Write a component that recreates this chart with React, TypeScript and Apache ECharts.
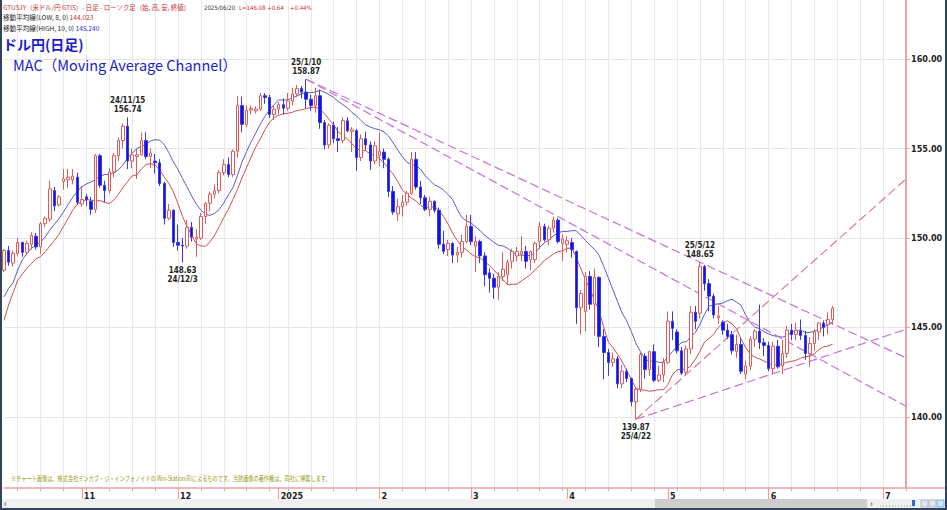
import React, { useEffect, useRef } from 'react';
import * as echarts from 'echarts';

// ---------- data ----------
const START_DATE = '2024-10-09';
const CLOSED_DAYS = ['2025-01-01'];
const FUTURE_DAYS = 16;

// daily candles [open, high, low, close]
const candles: [number, number, number, number][] = [
  [148.20,149.38,148.10,149.30],[149.30,149.55,148.45,148.65],[148.60,149.30,148.40,149.14],[149.14,149.98,149.00,149.75],[149.75,149.80,148.95,149.20],
  [149.20,149.85,149.10,149.70],[149.65,150.32,149.35,150.15],[150.10,150.28,149.35,149.50],[149.50,150.90,149.10,150.80],[150.80,151.20,150.60,151.10],
  [151.05,153.20,150.90,152.75],[152.65,152.85,151.50,151.80],[151.85,152.40,151.75,152.30],[153.15,153.85,152.70,153.30],[153.25,153.85,152.80,153.40],
  [153.25,153.85,153.00,153.45],[153.40,153.65,151.85,152.00],[151.90,152.90,151.75,152.15],[152.30,152.45,151.80,152.15],[152.05,152.30,151.30,151.60],
  [151.60,154.70,151.40,154.60],[154.60,154.70,152.80,152.95],[152.95,153.20,152.00,152.65],[152.65,153.90,152.50,153.70],[153.70,154.75,153.40,154.60],
  [154.60,155.60,154.30,155.45],[155.45,156.40,155.00,156.25],[156.25,156.74,153.85,154.30],[154.30,155.00,153.90,154.65],[154.55,155.00,153.30,154.65],
  [154.65,155.90,154.60,155.45],[155.45,155.90,154.40,154.55],[154.55,155.00,153.90,154.75],[154.30,154.70,153.60,154.20],[154.20,154.40,152.90,153.05],
  [153.05,153.15,150.75,151.10],[151.10,151.90,151.00,151.55],[151.55,151.60,149.50,149.75],[149.75,150.75,149.30,149.60],[149.60,150.00,148.63,149.55],
  [149.55,151.00,149.40,150.60],[150.60,150.90,149.80,150.05],[149.95,150.50,148.95,150.05],[150.00,151.40,149.90,151.20],[151.20,152.00,150.80,151.95],
  [151.95,152.60,151.50,152.45],[152.45,153.00,152.20,152.65],[152.65,153.80,152.50,153.65],[153.65,154.40,153.50,154.10],[154.10,154.50,153.40,153.55],
  [153.55,154.95,153.40,154.85],[154.85,157.93,154.50,157.40],[157.40,157.90,155.90,156.35],[156.35,157.40,156.20,157.15],[157.15,157.40,156.90,157.25],
  [157.10,157.35,156.95,157.20],[157.20,158.10,157.10,157.95],[157.95,158.10,157.50,157.85],[157.85,158.00,156.70,156.90],[156.90,157.40,156.60,157.20],
  [157.20,157.60,156.90,157.45],[157.45,157.80,156.90,157.25],[157.25,158.10,157.10,157.65],[157.65,158.40,157.40,158.05],[158.05,158.55,157.90,158.35],
  [158.35,158.50,157.80,158.15],[158.15,158.87,157.25,157.75],[157.75,158.00,157.10,157.40],[157.40,158.40,157.00,157.95],[157.95,158.30,156.10,156.45],
  [156.45,156.60,154.95,155.20],[155.20,156.40,155.00,156.30],[156.30,156.50,155.30,155.55],[155.55,156.20,154.80,155.45],[155.45,156.75,155.30,156.55],
  [156.55,156.75,155.90,156.00],[155.95,156.20,154.80,156.05],[156.00,156.10,153.75,154.50],[154.50,155.80,154.30,155.55],[155.55,155.95,154.90,155.20],
  [155.20,155.40,153.80,154.30],[154.30,155.40,154.10,155.15],[154.60,155.90,154.00,154.85],[154.80,155.00,153.90,154.40],[154.40,154.50,152.30,152.60],
  [152.60,152.90,151.30,151.45],[151.35,152.20,150.95,151.75],[151.75,152.40,151.20,152.00],[152.00,152.65,151.80,152.50],[152.50,154.80,152.40,154.40],
  [154.40,154.80,152.70,152.85],[152.85,153.20,151.90,152.25],[152.25,152.40,151.50,151.60],[151.60,152.30,151.20,152.05],[152.05,152.10,151.40,151.55],
  [151.55,151.70,149.40,149.65],[149.65,150.40,149.10,149.25],[149.35,149.90,149.00,149.70],[149.70,149.75,148.60,149.05],[149.05,149.50,148.60,149.20],
  [149.20,150.20,148.90,149.80],[149.80,151.30,149.70,150.65],[150.65,151.30,149.60,149.80],[149.55,150.10,148.10,149.80],[149.80,149.90,148.60,149.00],
  [149.00,149.20,147.30,147.95],[148.05,148.30,146.95,147.75],[147.75,148.00,146.60,147.25],[147.25,148.10,146.55,147.85],[147.85,149.20,147.60,148.25],
  [147.95,148.80,147.40,148.65],[148.70,149.40,148.30,149.25],[149.00,149.50,148.70,149.25],[149.10,150.10,148.70,149.25],[149.25,149.55,148.30,148.70],
  [148.80,149.30,148.20,149.25],[148.80,149.80,148.60,149.70],[149.80,150.90,149.40,150.65],[150.65,150.80,149.80,149.90],[149.90,150.70,149.60,150.55],
  [150.55,151.20,150.30,151.00],[151.00,151.10,149.70,149.80],[149.70,150.20,148.70,149.95],[149.65,150.10,149.20,149.85],[149.75,150.00,148.90,149.35],
  [149.25,149.30,145.20,146.10],[146.10,147.10,144.60,146.90],[145.90,148.10,144.80,147.85],[147.85,148.15,146.00,146.30],[146.30,148.30,144.55,147.80],
  [147.80,147.85,143.90,144.50],[144.50,144.90,142.10,143.60],[143.60,143.80,142.30,143.05],[143.05,143.60,142.80,143.25],[143.25,143.40,141.60,141.85],
  [141.85,142.90,141.60,142.55],[142.55,142.70,141.95,142.15],[142.15,142.20,140.60,140.85],[140.85,141.60,139.87,141.55],[141.55,143.60,141.40,143.50],
  [143.40,143.55,142.15,142.65],[142.65,143.70,142.30,143.65],[143.65,144.05,141.95,142.05],[142.05,142.85,141.95,142.35],[142.35,143.30,141.95,143.05],
  [143.05,145.90,142.95,145.35],[145.35,145.90,144.30,144.95],[144.75,144.90,143.55,143.70],[143.70,143.90,142.35,142.45],[142.50,144.00,142.35,143.80],
  [143.80,146.20,143.50,145.85],[145.85,146.20,144.90,145.35],[145.80,148.65,145.50,148.40],[148.40,148.50,147.05,147.45],[147.45,147.70,145.90,146.75],
  [146.75,146.90,145.50,145.70],[145.55,146.20,145.20,145.65],[145.30,145.40,144.60,144.85],[144.85,145.20,144.35,144.50],[144.60,144.80,143.50,143.70],
  [143.65,144.60,143.30,144.05],[144.05,144.40,142.40,142.55],[142.40,143.15,142.10,142.85],[142.85,144.50,142.60,144.35],[144.35,144.90,143.90,144.80],
  [144.80,146.28,143.80,144.15],[144.15,144.40,143.40,144.00],[144.00,144.20,142.55,142.70],[142.70,144.20,142.40,143.95],[143.95,144.30,142.70,142.80],
  [142.85,144.30,142.40,143.55],[143.55,145.10,143.30,144.85],[144.85,145.20,144.30,144.60],[144.60,145.25,144.30,144.85],[144.80,145.45,144.30,144.55],
  [144.55,144.80,143.20,143.55],[143.55,144.45,142.80,144.10],[144.10,144.90,143.70,144.75],[144.75,145.30,144.30,145.25],[145.25,145.40,144.50,145.00],
  [145.15,145.85,144.60,145.45],[145.45,146.20,145.15,146.08],
];

// highs / lows before the first drawn day (only feed the moving averages)
const warmupHigh = [144.80, 146.00, 143.00, 144.00, 146.50, 147.20, 148.90, 148.90, 148.40];
const warmupLow = [141.60, 142.90, 143.40, 146.30, 146.30, 147.30, 147.30];

const MA_HIGH_PERIOD = 10;
const MA_LOW_PERIOD = 8;
const maLowLastText = '144.023';
const maHighLastText = '145.240';

const yTicks = [140, 145, 150, 155, 160];

const monthLabels: [string, string][] = [
  ['2024-11-01', '11'], ['2024-12-02', '12'], ['2025-01-02', '2025'], ['2025-02-03', '2'],
  ['2025-03-03', '3'], ['2025-04-01', '4'], ['2025-05-01', '5'], ['2025-06-02', '6'], ['2025-07-07', '7'],
];

const annotations = [
  { date: '2024-11-15', price: 156.74, text: '24/11/15\n156.74', pos: 'top' },
  { date: '2024-12-03', price: 148.63, text: '148.63\n24/12/3', pos: 'bottom' },
  { date: '2025-01-10', price: 158.87, text: '25/1/10\n158.87', pos: 'top' },
  { date: '2025-04-22', price: 139.87, text: '139.87\n25/4/22', pos: 'bottom' },
  { date: '2025-05-12', price: 148.65, text: '25/5/12\n148.65', pos: 'top' },
];

// trend lines: two anchor points, extended to the right edge
const trendLines = [
  { from: ['2025-01-10', 158.87], to: ['2025-05-12', 148.65], color: '#c673d6' },
  { from: ['2025-01-10', 158.87], to: ['2025-07-14', 140.6], color: '#c673d6' },
  { from: ['2025-04-22', 139.87], to: ['2025-07-14', 144.9], color: '#c673d6' },
  { from: ['2025-04-22', 139.87], to: ['2025-07-14', 153.3], color: '#e07a98' },
];

// ---------- helpers ----------
function buildDates(count: number): string[] {
  const out: string[] = [];
  const d = new Date(START_DATE + 'T00:00:00Z');
  while (out.length < count) {
    const dow = d.getUTCDay();
    const s = d.toISOString().slice(0, 10);
    if (dow !== 0 && dow !== 6 && !CLOSED_DAYS.includes(s)) out.push(s);
    d.setUTCDate(d.getUTCDate() + 1);
  }
  return out;
}

function sma(values: number[], prior: number[], n: number): number[] {
  const all = prior.concat(values);
  return values.map((_, i) => {
    const end = prior.length + i + 1;
    const win = all.slice(Math.max(0, end - n), end);
    return +(win.reduce((a, b) => a + b, 0) / win.length).toFixed(3);
  });
}

const NARROW = '"Liberation Sans Narrow", "DejaVu Sans Condensed", "Liberation Sans", Arial, sans-serif';
const JP = '"Noto Sans CJK JP", "Noto Sans", sans-serif';

export default function App() {
  const ref = useRef<HTMLDivElement>(null);

  useEffect(() => {
    if (!ref.current) return;
    const chart = echarts.init(ref.current, undefined, { renderer: 'svg' });

    const dates = buildDates(candles.length + FUTURE_DAYS);
    const idx = (d: string) => dates.indexOf(d);
    const lastIdx = dates.length - 1;
    const monthMap: Record<string, string> = {};
    monthLabels.forEach(([d, t]) => (monthMap[d] = t));
    const isMonday = (d: string) => new Date(d + 'T00:00:00Z').getUTCDay() === 1;

    const highs = candles.map((c) => c[1]);
    const lows = candles.map((c) => c[2]);
    const maHigh = sma(highs, warmupHigh, MA_HIGH_PERIOD);
    const maLow = sma(lows, warmupLow, MA_LOW_PERIOD);
    const lastClose = candles[candles.length - 1][3];

    const trendSeries = trendLines.map((tl) => {
      const x0 = idx(tl.from[0] as string);
      const x1 = idx(tl.to[0] as string);
      const y0 = tl.from[1] as number;
      const y1 = tl.to[1] as number;
      const slope = (y1 - y0) / (x1 - x0);
      const yEnd = y0 + slope * (lastIdx - x0);
      return {
        type: 'line',
        data: [[x0, y0], [lastIdx, +yEnd.toFixed(3)]],
        symbol: 'none',
        silent: true,
        z: 4,
        lineStyle: { color: tl.color, width: 1.2, type: [9, 4] },
      };
    });

    const txt = (x: number, y: number, text: string, fill: string, fontSize: number, extra: any = {}, el: any = {}) => ({
      type: 'text',
      x,
      y,
      silent: true,
      z: 100,
      ...el,
      style: { text, fill, fontSize, fontFamily: JP, verticalAlign: 'middle', ...extra },
    });

    const pink = '#e8a3a8';
    const red = '#cc2f2f';

    const option: any = {
      animation: false,
      backgroundColor: '#ffffff',
      grid: { left: 4, top: 0, width: 902, height: 488, containLabel: false },
      xAxis: [
        {
          type: 'category',
          data: dates,
          boundaryGap: false,
          axisLine: { show: true, lineStyle: { color: pink, width: 1.5 } },
          axisTick: { show: true, length: 3, interval: (i: number, v: string) => isMonday(v), lineStyle: { color: pink } },
          axisLabel: { show: false },
          splitLine: { show: true, interval: (i: number, v: string) => isMonday(v), lineStyle: { color: '#e9e9e9', width: 1 } },
        },
        {
          type: 'category',
          data: dates,
          boundaryGap: false,
          position: 'bottom',
          axisLine: { show: false },
          axisTick: { show: true, length: 12, interval: (i: number, v: string) => !!monthMap[v], lineStyle: { color: pink, width: 1.2 } },
          axisLabel: {
            show: true,
            interval: (i: number, v: string) => !!monthMap[v],
            formatter: (v: string) => monthMap[v] || '',
            align: 'left',
            margin: 3,
            padding: [0, 0, 0, 2],
            fontSize: 9,
            fontWeight: 'bold',
            color: '#222',
            fontFamily: NARROW,
          },
          splitLine: { show: false },
        },
      ],
      yAxis: {
        type: 'value',
        position: 'right',
        min: 136.03,
        max: 163.3,
        axisLine: { show: true, lineStyle: { color: pink, width: 2 } },
        axisTick: { show: true, customValues: yTicks, length: 4, lineStyle: { color: pink } },
        axisLabel: {
          show: true,
          customValues: yTicks,
          formatter: (v: number) => v.toFixed(2),
          margin: 5,
          fontSize: 9,
          fontWeight: 'bold',
          color: '#222',
          fontFamily: NARROW,
        },
        splitLine: { show: true, lineStyle: { color: '#e4e4e4', width: 1 } },
      },
      series: [
        ...trendSeries,
        {
          type: 'line',
          data: maHigh,
          symbol: 'none',
          silent: true,
          z: 3,
          lineStyle: { color: '#5b5bc6', width: 1 },
        },
        {
          type: 'line',
          data: maLow,
          symbol: 'none',
          silent: true,
          z: 3,
          lineStyle: { color: '#cf4f4f', width: 1 },
        },
        {
          type: 'candlestick',
          data: candles.map(([o, h, l, c]) => [o, c, l, h]),
          barWidth: 3,
          clip: false,
          z: 5,
          itemStyle: {
            color: '#ffffff',
            color0: '#0a14f0',
            borderColor: '#e05a5a',
            borderColor0: '#3a3ae0',
            borderWidth: 1,
          },
          markPoint: {
            symbol: 'circle',
            symbolSize: 1,
            silent: true,
            itemStyle: { color: 'rgba(0,0,0,0)' },
            label: {
              show: true,
              fontSize: 8,
              lineHeight: 9,
              fontWeight: 'bold',
              color: '#222',
              fontFamily: NARROW,
              align: 'center',
            },
            data: annotations.map((a) => ({
              coord: [a.date, a.price],
              label: { position: a.pos, formatter: a.text, distance: 3 },
            })),
          },
          markLine: {
            silent: true,
            symbol: ['none', 'none'],
            lineStyle: { opacity: 0 },
            label: {
              show: true,
              position: 'end',
              formatter: lastClose.toFixed(2),
              backgroundColor: '#ff1414',
              color: '#ffffff',
              fontSize: 8,
              fontFamily: NARROW,
              padding: [2, 3, 1, 3],
              distance: 4,
            },
            data: [{ yAxis: lastClose }],
          },
        },
      ],
      graphic: [
        // header
        txt(3, 7, 'GTUSJY（米ドル/円 GTIS）- 日足 - ローソク足（始, 高, 安, 終値）', red, 6.4),
        txt(204, 7, '2025/06/20', '#333333', 6, { fontFamily: NARROW }),
        txt(239, 7, 'L=146.08 +0.64', red, 6, { fontFamily: NARROW }),
        txt(290, 7, '+0.44%', red, 6, { fontFamily: NARROW }),
        txt(3, 17, '', '#222222', 6.6, {
          text: '{k|移動平均線(LOW, 8, 0)} {r|' + maLowLastText + '}',
          rich: { k: { fill: '#222222', fontSize: 6.6, fontFamily: JP }, r: { fill: red, fontSize: 6.6, fontFamily: JP } },
        }),
        txt(3, 28, '', '#222222', 6.6, {
          text: '{k|移動平均線(HIGH, 10, 0)} {b|' + maHighLastText + '}',
          rich: { k: { fill: '#222222', fontSize: 6.6, fontFamily: JP }, b: { fill: '#2a2ad0', fontSize: 6.6, fontFamily: JP } },
        }),
        txt(3, 44, 'ドル円(日足)', '#1c1cc8', 14, { fontWeight: 'bold' }),
        txt(13, 64, 'MAC（Moving Average Channel）', '#1c1cc8', 14.5),
        // footer note
        txt(11, 478, '※チャート画像は、株式会社ミンカブ・ジ・インフォノイドの Win-Station(R)によるものです。当該画像の著作権は、同社に帰属します。', '#9a9a18', 5.2, {}, { scaleY: 1.35 }),
        // bottom axis extension to the window edge
        { type: 'line', silent: true, z: 50, shape: { x1: 906, y1: 488, x2: 945, y2: 488 }, style: { stroke: pink, lineWidth: 1.5 } },
        // scrollbar
        { type: 'rect', silent: true, z: 50, shape: { x: 2, y: 499, width: 943, height: 9 }, style: { fill: '#f0f0f0' } },
        { type: 'rect', silent: true, z: 51, shape: { x: 655, y: 499, width: 212, height: 9 }, style: { fill: '#cdcdcd' } },
        txt(4, 503.5, '‹', '#333333', 9),
        txt(870, 503.5, '›', '#333333', 9),
        { type: 'line', silent: true, z: 51, shape: { x1: 880, y1: 506, x2: 915, y2: 506 }, style: { stroke: '#9a9a9a', lineWidth: 1, lineDash: [1, 2] } },
        { type: 'rect', silent: true, z: 52, shape: { x: 912, y: 500, width: 3, height: 6 }, style: { fill: '#1d6fd8' } },
        { type: 'rect', silent: true, z: 52, shape: { x: 921, y: 500, width: 7, height: 7 }, style: { fill: '#dfe6ee', stroke: '#7d8da3', lineWidth: 0.5 } },
        { type: 'rect', silent: true, z: 52, shape: { x: 929, y: 500, width: 7, height: 7 }, style: { fill: '#dfe6ee', stroke: '#7d8da3', lineWidth: 0.5 } },
        { type: 'rect', silent: true, z: 52, shape: { x: 937, y: 500, width: 7, height: 7 }, style: { fill: '#c9e3f5', stroke: '#3b84c4', lineWidth: 0.5 } },
        // window frame
        { type: 'rect', silent: true, z: 60, shape: { x: 0, y: 0, width: 2, height: 510 }, style: { fill: '#33425e' } },
        { type: 'rect', silent: true, z: 60, shape: { x: 945, y: 0, width: 2, height: 510 }, style: { fill: '#33425e' } },
        { type: 'rect', silent: true, z: 60, shape: { x: 0, y: 508, width: 947, height: 2 }, style: { fill: '#33425e' } },
      ],
    };

    chart.setOption(option);
    return () => chart.dispose();
  }, []);

  return <div ref={ref} style={{ position: 'absolute', left: 0, top: 0, width: 947, height: 510 }} />;
}
